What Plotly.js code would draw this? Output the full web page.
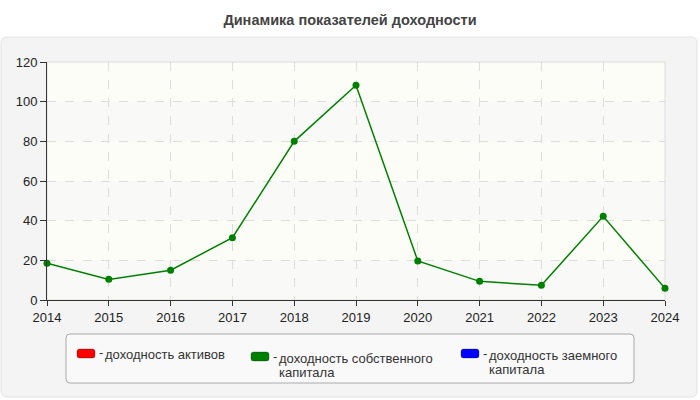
<!DOCTYPE html>
<html>
<head>
<meta charset="utf-8">
<script src="https://cdn.plot.ly/plotly-3.0.1.min.js"></script>
<style>
  html, body { margin: 0; padding: 0; background: #ffffff; }
  #chart { width: 700px; height: 400px; }
</style>
</head>
<body>
<div id="chart"></div>
<script>
// chart data
const years = ['2014', '2015', '2016', '2017', '2018', '2019', '2020', '2021', '2022', '2023', '2024'];
const returnOnAssets = [];
const returnOnEquity = [18.5, 10.4, 15.0, 31.4, 80.0, 108.3, 19.7, 9.4, 7.4, 42.2, 5.9];
const returnOnDebt = [];
const seriesNames = ['доходность активов', 'доходность собственного<br>капитала', 'доходность заемного<br>капитала'];
const seriesColors = ['#ff0000', '#008000', '#0000ff'];
const yTicks = [0, 20, 40, 60, 80, 100, 120];

// plot area in pixels
const W = 700, H = 400;
const M = { l: 47, r: 35, t: 62, b: 100 };
const pw = W - M.l - M.r, ph = H - M.t - M.b;
const px = x => (x - M.l) / pw;
const py = y => (H - M.b - y) / ph;

function roundRect(x0, y0, x1, y1, r) {
  const p = (x, y) => px(x) + ',' + py(y);
  return 'M' + p(x0 + r, y0) + ' L' + p(x1 - r, y0) + ' Q' + p(x1, y0) + ' ' + p(x1, y0 + r) +
    ' L' + p(x1, y1 - r) + ' Q' + p(x1, y1) + ' ' + p(x1 - r, y1) +
    ' L' + p(x0 + r, y1) + ' Q' + p(x0, y1) + ' ' + p(x0, y1 - r) +
    ' L' + p(x0, y0 + r) + ' Q' + p(x0, y0) + ' ' + p(x0 + r, y0) + ' Z';
}

const traces = [returnOnAssets, returnOnEquity, returnOnDebt].map((vals, i) => ({
  x: years.slice(0, vals.length),
  y: vals,
  type: 'scatter',
  mode: 'lines+markers',
  name: seriesNames[i],
  line: { color: seriesColors[i], width: 1.5 },
  marker: { color: seriesColors[i], size: 7 },
  showlegend: false,
  cliponaxis: false
}));

const shapes = [];
// outer panel
shapes.push({ type: 'path', xref: 'paper', yref: 'paper', layer: 'below',
  path: roundRect(1, 37, 697, 397, 6), fillcolor: '#f4f4f4', line: { color: '#e2e2e2', width: 1 } });
// plot background with alternating bands
shapes.push({ type: 'rect', xref: 'paper', yref: 'paper', layer: 'below',
  x0: 0, x1: 1, y0: 0, y1: 1, fillcolor: '#fdfdf7', line: { width: 0 } });
for (let i = 0; i < yTicks.length - 1; i += 2) {
  shapes.push({ type: 'rect', xref: 'paper', yref: 'y', layer: 'below',
    x0: 0, x1: 1, y0: yTicks[i], y1: yTicks[i + 1], fillcolor: '#f9f9f7', line: { width: 0 } });
}
// light frame on top/right
shapes.push({ type: 'rect', xref: 'paper', yref: 'paper', layer: 'below',
  x0: 0, x1: 1, y0: 0, y1: 1, line: { color: '#dddddd', width: 1 } });
// legend box
shapes.push({ type: 'path', xref: 'paper', yref: 'paper',
  path: roundRect(66, 334, 634, 383, 4), fillcolor: '#f9f9f9', line: { color: '#aaaaaa', width: 1 } });

// legend items: swatch x, swatch top y, text first-line centre y
const legendPos = [[77, 349, 354], [251, 352, 358], [461, 349, 355]];
const annotations = [];
legendPos.forEach((p, i) => {
  shapes.push({ type: 'path', xref: 'paper', yref: 'paper',
    path: roundRect(p[0], p[1], p[0] + 18, p[1] + 9, 2.5),
    fillcolor: seriesColors[i], line: { color: 'rgba(0,0,0,0.25)', width: 1 } });
  annotations.push({ xref: 'paper', yref: 'paper', x: px(p[0] + 20), y: py(p[2] - 2),
    xanchor: 'left', yanchor: 'middle', showarrow: false, text: '-',
    font: { size: 13, color: '#333333' } });
  seriesNames[i].split('<br>').forEach((line, k) => {
    annotations.push({ xref: 'paper', yref: 'paper', x: px(p[0] + 26), y: py(p[2] + k * 14),
      xanchor: 'left', yanchor: 'middle', showarrow: false, text: line,
      font: { size: 13, color: '#333333' } });
  });
});

const layout = {
  width: W,
  height: H,
  margin: M,
  paper_bgcolor: 'rgba(0,0,0,0)',
  plot_bgcolor: 'rgba(0,0,0,0)',
  font: { family: 'Liberation Sans, Arial, sans-serif', size: 13, color: '#222222' },
  title: {
    text: '<b>Динамика показателей доходности</b>',
    font: { size: 14.5, color: '#444444' },
    x: 0.5, xref: 'container', y: 1 - 20 / H, yref: 'container', yanchor: 'middle'
  },
  xaxis: {
    type: 'category',
    range: [0, years.length - 1],
    showgrid: true, gridcolor: '#dddddd', griddash: 'dash', gridwidth: 1,
    showline: true, linecolor: '#333333', linewidth: 1,
    ticks: 'outside', ticklen: 5, tickcolor: '#333333',
    zeroline: false, fixedrange: true
  },
  yaxis: {
    range: [0, 120],
    tickvals: yTicks,
    showgrid: true, gridcolor: '#dddddd', griddash: 'dash', gridwidth: 1,
    showline: true, linecolor: '#333333', linewidth: 1,
    ticks: 'outside', ticklen: 6, tickcolor: '#333333',
    zeroline: false, fixedrange: true
  },
  shapes: shapes,
  annotations: annotations
};

Plotly.newPlot('chart', traces, layout, { staticPlot: true, displayModeBar: false });
</script>
</body>
</html>
